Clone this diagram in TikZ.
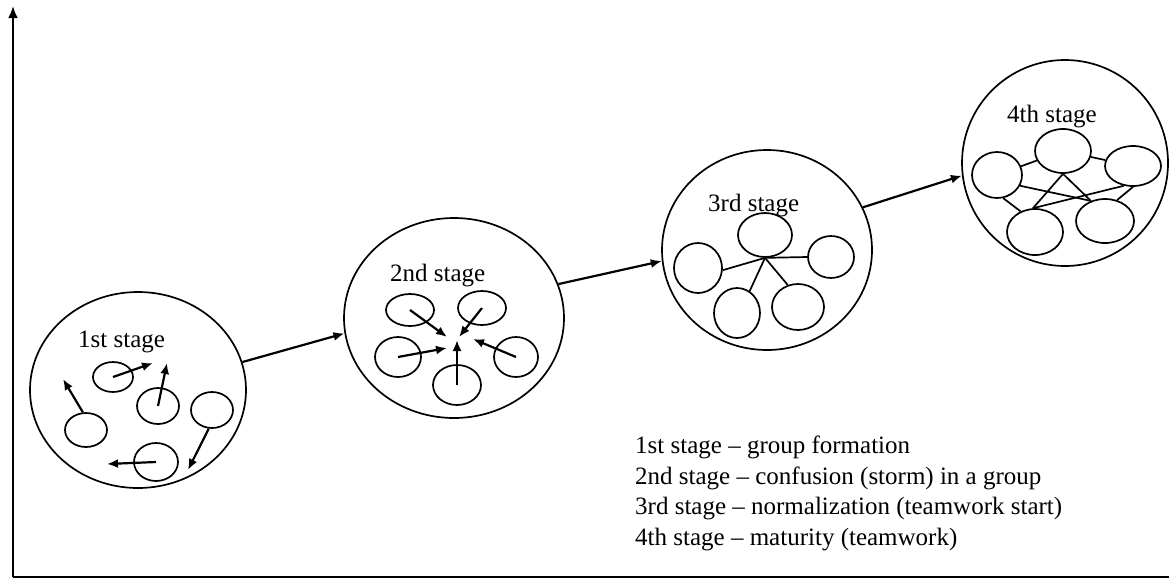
\documentclass[tikz,border=0pt]{standalone}
\usepackage{fontspec}
\setmainfont{Liberation Serif}
\usetikzlibrary{shapes.geometric,arrows.meta}

\begin{document}
\begin{tikzpicture}[x=1pt,y=-1pt,
  stage/.style={ellipse,draw=black,line width=1.7pt,inner sep=0pt},
  member/.style={ellipse,draw=black,line width=1.7pt,inner sep=0pt},
  label/.style={anchor=base west,inner sep=0pt,font=\fontsize{25}{30}\selectfont},
  move/.style={-{Latex[length=11pt,width=9pt]},line width=2.2pt},
  tie/.style={line width=1.7pt},
  axis/.style={line width=2.8pt}]
\useasboundingbox (0,0) rectangle (1169,579);
\coordinate(o) at (13,577);
\coordinate(ytop) at (13,6);
\coordinate(xend) at (1169,577);
\draw[axis,-{Latex[length=12pt,width=10pt]}](o)--(ytop);
\draw[axis](o)--(xend);
\node[stage,minimum width=216,minimum height=196](s1) at (138,390){};
\node[stage,minimum width=220,minimum height=200](s2) at (454,318){};
\node[stage,minimum width=210,minimum height=200](s3) at (767,250){};
\node[stage,minimum width=206,minimum height=206](s4) at (1065,163){};
\draw[move](s1.15)--(s2.188);
\draw[move](s2.18)--(s3.186);
\draw[move](s3.24)--(s4.187);
\node[label](n1) at (78,347){1st stage};
\node[label](n2) at (390,281){2nd stage};
\node[label](n3) at (708,211){3rd stage};
\node[label](n4) at (1007,122){4th stage};
\node[member,minimum width=40,minimum height=30](a1) at (113,377){};
\node[member,minimum width=42,minimum height=36](a2) at (158,406){};
\node[member,minimum width=42,minimum height=36](a3) at (212,410){};
\node[member,minimum width=42,minimum height=34](a4) at (86,430){};
\node[member,minimum width=44,minimum height=38](a5) at (156,462){};
\coordinate(p1) at (153,363);
\coordinate(p2) at (167,363);
\coordinate(p3) at (188,470);
\coordinate(p4) at (63,379);
\coordinate(p5) at (107,464);
\draw[move](a1.center)--(p1);
\draw[move](a2.center)--(p2);
\draw[move](a3.-100)--(p3);
\draw[move](a4.100)--(p4);
\draw[move](a5.center)--(p5);
\node[member,minimum width=48,minimum height=32](b1) at (410,310){};
\node[member,minimum width=48,minimum height=34](b2) at (482,308){};
\node[member,minimum width=46,minimum height=40](b3) at (398,357){};
\node[member,minimum width=44,minimum height=40](b4) at (516,357){};
\node[member,minimum width=48,minimum height=40](b5) at (457,385){};
\coordinate(q1) at (447,337);
\coordinate(q2) at (459,337);
\coordinate(q3) at (447,348);
\coordinate(q4) at (473,339);
\coordinate(q5) at (457,340);
\draw[move](b1.center)--(q1);
\draw[move](b2.center)--(q2);
\draw[move](b3.center)--(q3);
\draw[move](b4.center)--(q4);
\draw[move](b5.center)--(q5);
\node[member,minimum width=54,minimum height=44](c1) at (765,235){};
\node[member,minimum width=48,minimum height=50](c2) at (698,268){};
\node[member,minimum width=46,minimum height=42](c3) at (831,257){};
\node[member,minimum width=46,minimum height=50](c4) at (737,313){};
\node[member,minimum width=52,minimum height=46](c5) at (798,307){};
\draw[tie](c1.south)--(c2.-5);
\draw[tie](c1.south)--(c3.west);
\draw[tie](c1.south)--(c4.60);
\draw[tie](c1.south)--(c5.115);
\node[member,minimum width=56,minimum height=44](d1) at (1063,151){};
\node[member,minimum width=50,minimum height=46](d2) at (997,175){};
\node[member,minimum width=56,minimum height=40](d3) at (1133,166){};
\node[member,minimum width=56,minimum height=46](d4) at (1035,232){};
\node[member,minimum width=58,minimum height=44](d5) at (1105,221){};
\draw[tie](d2)--(d1);
\draw[tie](d1)--(d3);
\draw[tie](d1.south)--(d4.95);
\draw[tie](d1.south)--(d5.125);
\draw[tie](d2.-25)--(d5.125);
\draw[tie](d3.-115)--(d4.95);
\draw[tie](d2.-75)--(d4.125);
\draw[tie](d3.-90)--(d5.60);
\node[label](l1) at (635,453){1st stage -- group formation};
\node[label](l2) at (635,484){2nd stage -- confusion (storm) in a group};
\node[label](l3) at (635,514){3rd stage -- normalization (teamwork start)};
\node[label](l4) at (635,545){4th stage -- maturity (teamwork)};
\end{tikzpicture}
\end{document}
